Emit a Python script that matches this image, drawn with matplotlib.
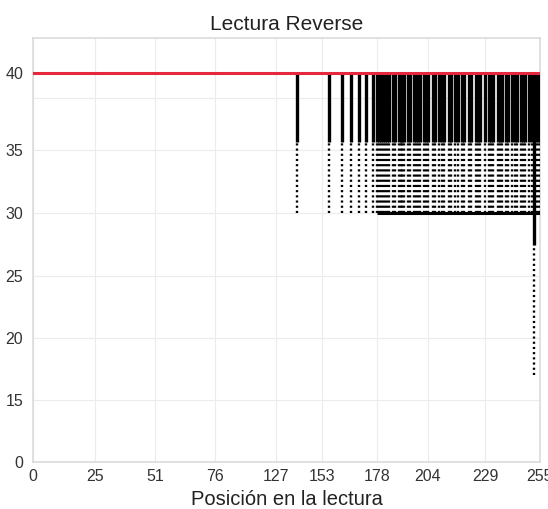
import numpy as np
import matplotlib
matplotlib.use("Agg")
from matplotlib import pyplot as plt

plt.rcParams['font.family'] = ['Liberation Sans', 'DejaVu Sans']

# tick values on each axis and where they sit along the axis (px from the origin)
x_ticks     = [0, 25, 51, 76, 127, 153, 178, 204, 229, 255]
x_tick_px   = [0, 62, 122, 182, 243, 289, 344, 395, 452, 507]
y_ticks     = [0, 15, 20, 25, 30, 35, 40]
y_knots     = [0, 15, 20, 25, 30, 35, 38.4, 40, 42.27]
y_knots_px  = [0, 62, 124, 186, 249, 312, 364, 389, 424]

# positions with a quality box (40 -> 35.5) and a whisker (35.5 -> 30)
pos_sueltas = [139, 156, 162, 166, 170, 173, 176]
pos_densas  = [178, 179, 180, 181, 182, 183, 184, 186, 187, 189, 190, 191, 192,
               194, 195, 197, 198, 199, 200, 202, 203, 204, 206, 207, 209, 210,
               211, 213, 214, 216, 217, 219, 220, 222, 223, 225, 226, 227, 229,
               231, 232, 233, 235, 236, 237, 239, 240, 242, 243, 244, 246, 247,
               248, 250, 251, 253, 254, 255]
caja_alta   = 40
caja_baja   = 35.5
bigote_bajo = 30

# last position drops lower
pos_final      = 252
final_caja     = 27.5
final_bigote   = 17

# lower whisker line across the tail of the read
linea30_desde = 178
linea30_hasta = 255
linea30_valor = 30

umbral = 40


def fwd_x(v):
    return np.interp(v, x_ticks, x_tick_px)

def inv_x(u):
    return np.interp(u, x_tick_px, x_ticks)

def fwd_y(v):
    return np.interp(v, y_knots, y_knots_px)

def inv_y(u):
    return np.interp(u, y_knots_px, y_knots)


fig = plt.figure(figsize=(5.48, 5.09), dpi=100)
ax  = fig.add_axes([0.0602, 0.0923, 0.9252, 0.833])
ax.set_xscale('function', functions=(fwd_x, inv_x))
ax.set_yscale('function', functions=(fwd_y, inv_y))
ax.set_xlim(0, 255)
ax.set_ylim(0, 42.27)

posiciones = pos_sueltas + pos_densas
ax.vlines(posiciones, caja_baja, caja_alta, color='black', lw=2.4, zorder=3)
ax.vlines(posiciones, bigote_bajo, caja_baja, color='black', lw=1.7,
          linestyles=[(0, (0.9, 1.3))], zorder=3)

ax.hlines(linea30_valor, linea30_desde, linea30_hasta, color='black', lw=2.2, zorder=3)
ax.vlines(pos_final, final_caja, caja_alta, color='black', lw=2.4, zorder=4)
ax.vlines(pos_final, final_bigote, final_caja, color='black', lw=1.7,
          linestyles=[(0, (0.9, 1.3))], zorder=4)

ax.axhline(umbral, color='#e6283c', lw=2.2, zorder=5)

ax.set_xticks(x_ticks)
ax.set_xticklabels([str(t) for t in x_ticks])
ax.set_yticks(y_ticks)
ax.set_yticklabels([str(t) for t in y_ticks])
ax.set_yticks([38.4], minor=True)
ax.xaxis.set_minor_locator(matplotlib.ticker.NullLocator())
ax.tick_params(which='both', length=0, labelsize=11.5, colors='#333333')
ax.tick_params(axis='y', pad=7)
ax.tick_params(axis='x', pad=5)
ax.grid(True, which='both', color='#ececec', lw=0.8)
ax.set_axisbelow(True)

for s in ax.spines.values():
    s.set_color('#d8d8d8')
    s.set_linewidth(1.1)

ax.set_title("Lectura Reverse", fontsize=15, color='#222222', pad=6)
ax.set_xlabel("Posición en la lectura", fontsize=14.5, color='#222222', labelpad=4)

fig.savefig("out.png", dpi=100)
